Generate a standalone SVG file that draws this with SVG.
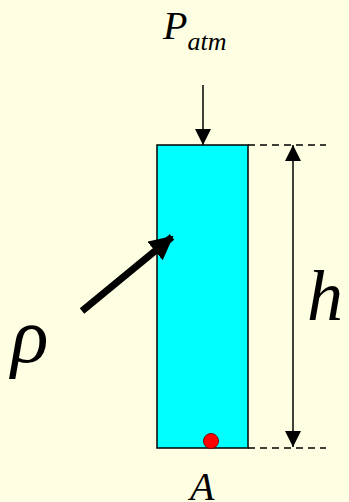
<svg xmlns="http://www.w3.org/2000/svg" width="349" height="502" viewBox="0 0 349 502">
<defs>
<style>
.t{font-family:"Liberation Serif","Times New Roman",serif;font-style:italic;fill:#000}
.dash{stroke:#000;stroke-width:1.3;stroke-dasharray:7 5;fill:none}
.ln{stroke:#000;stroke-width:1.5;fill:none}
</style>
<marker id="ah" viewBox="0 0 16 16" refX="16" refY="8" markerWidth="16" markerHeight="16" markerUnits="userSpaceOnUse" orient="auto-start-reverse">
<path d="M0,0 L16,8 L0,16 Z" fill="#000"/>
</marker>
<marker id="big" viewBox="0 0 24 24" refX="22" refY="12" markerWidth="24" markerHeight="24" markerUnits="userSpaceOnUse" orient="auto">
<path d="M0,0 L24,12 L0,24 Z" fill="#000"/>
</marker>
</defs>
<rect width="349" height="502" fill="#FEFEE2"/>
<g id="column">
<rect x="157" y="145" width="91" height="303" fill="#00FFFF" stroke="#000" stroke-width="1.5"/>
</g>
<g id="pointA">
<circle cx="211" cy="441" r="7.5" fill="#FF0000" stroke="#800000" stroke-width="1"/>
<text class="t" x="190" y="500" font-size="40">A</text>
</g>
<g id="patm">
<text class="t" x="163" y="39" font-size="40">P<tspan font-size="26" dy="11">atm</tspan></text>
</g>
<g id="rho">
<text class="t" x="11" y="362" font-size="78">ρ</text>
</g>
<g id="height">
<text class="t" x="307" y="320" font-size="72">h</text>
</g>
<g id="connectors">
<line class="ln" x1="203" y1="85" x2="203" y2="145" marker-end="url(#ah)"/>
<line class="dash" x1="248" y1="145" x2="326" y2="145"/>
<line class="dash" x1="248" y1="448" x2="326" y2="448"/>
<line class="ln" x1="293" y1="145" x2="293" y2="447" marker-start="url(#ah)" marker-end="url(#ah)"/>
<line x1="82" y1="311" x2="172" y2="237" stroke="#000" stroke-width="7" marker-end="url(#big)"/>
</g>
</svg>
